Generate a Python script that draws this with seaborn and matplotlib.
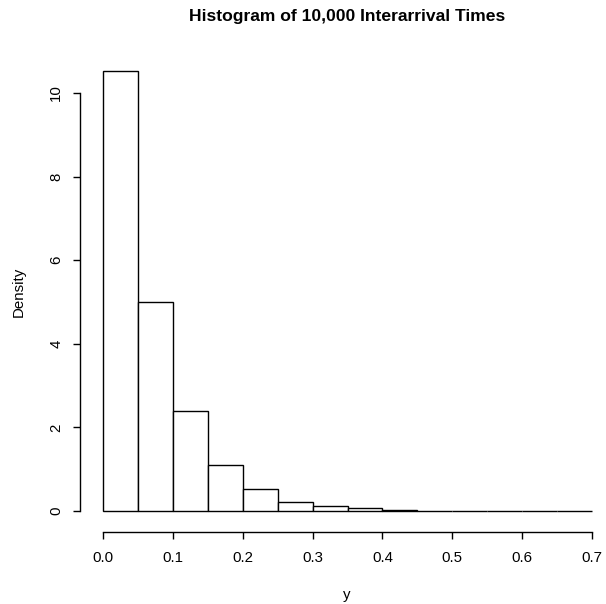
import matplotlib
matplotlib.use("Agg")
import matplotlib.pyplot as plt
import seaborn as sns
import numpy as np

bin_edges = [0.0, 0.05, 0.10, 0.15, 0.20, 0.25, 0.30, 0.35, 0.40, 0.45, 0.50, 0.55, 0.60, 0.65, 0.70]
densities = [10.52, 5.00, 2.40, 1.10, 0.52, 0.22, 0.11, 0.06, 0.025, 0.010, 0.006, 0.0, 0.004, 0.002]
x_ticks = [0.0, 0.1, 0.2, 0.3, 0.4, 0.5, 0.6, 0.7]
x_tick_labels = ["0.0", "0.1", "0.2", "0.3", "0.4", "0.5", "0.6", "0.7"]
y_ticks = [0, 2, 4, 6, 8, 10]
y_tick_labels = ["0", "2", "4", "6", "8", "10"]

sns.set_style("white")
plt.rcParams["font.family"] = ["Liberation Sans", "DejaVu Sans"]
plt.rcParams["text.color"] = "black"
plt.rcParams["axes.labelcolor"] = "black"
plt.rcParams["xtick.color"] = "black"
plt.rcParams["ytick.color"] = "black"

W, H = 606, 604
fig = plt.figure(figsize=(W / 100, H / 100), dpi=100)

# pixel mapping: x 0 -> 103, 0.7 -> 592 ; y 0 -> 511, 10 -> 93
px_per_x = (592 - 103) / 0.7
px_per_y = (511 - 93) / 10.0
left_px, right_px = 80, 602
bottom_px, top_px = 532, 60
ax = fig.add_axes([left_px / W, 1 - bottom_px / H, (right_px - left_px) / W, (bottom_px - top_px) / H])
ax.set_xlim(-(103 - left_px) / px_per_x, 0.7 + (right_px - 592) / px_per_x)
ax.set_ylim(-(bottom_px - 511) / px_per_y, 10 + (93 - top_px) / px_per_y)

mids = [(a + b) / 2 for a, b in zip(bin_edges[:-1], bin_edges[1:])]
sns.histplot(x=mids, weights=densities, bins=bin_edges, ax=ax,
             color="white", edgecolor="black", linewidth=1.0, alpha=1.0)

for s in ["top", "right"]:
    ax.spines[s].set_visible(False)
for s in ["left", "bottom"]:
    ax.spines[s].set_color("black")
    ax.spines[s].set_linewidth(1.0)
ax.spines["left"].set_bounds(0, 10)
ax.spines["bottom"].set_bounds(0, 0.7)

ax.set_xticks(x_ticks)
ax.set_xticklabels(x_tick_labels, fontsize=10.8, color="black")
ax.set_yticks(y_ticks)
ax.set_yticklabels(y_tick_labels, fontsize=10.8, rotation=90, va="center", color="black")
ax.tick_params(axis="x", direction="out", length=5, width=1.0, color="black",
               bottom=True, pad=9)
ax.tick_params(axis="y", direction="out", length=5, width=1.0, color="black",
               left=True, pad=7)
ax.grid(False)
ax.set_xlabel("")
ax.set_ylabel("")

fig.text(347 / W, 1 - 595 / H, "y", ha="center", va="center", fontsize=10.8, color="black")
fig.text(19 / W, 1 - 292 / H, "Density", ha="center", va="center", fontsize=10.8,
         rotation=90, color="black")
fig.text(347 / W, 1 - 16 / H, "Histogram of 10,000 Interarrival Times",
         ha="center", va="center", fontsize=12.6, fontweight="bold", color="black")

fig.savefig("out.png", dpi=100, facecolor="white")
